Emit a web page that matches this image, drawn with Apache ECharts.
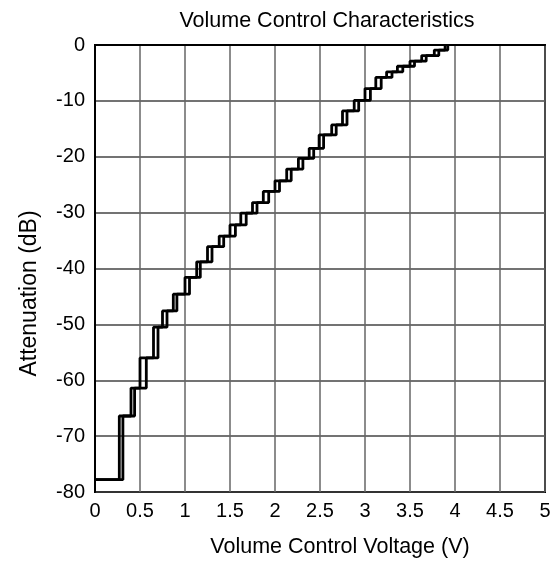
<!DOCTYPE html>
<html>
<head>
<meta charset="utf-8">
<script src="https://cdn.jsdelivr.net/npm/echarts@6/dist/echarts.min.js"></script>
<style>
    html, body { margin: 0; padding: 0; background: #fff; }
    #chart { width: 560px; height: 565px; }
</style>
</head>
<body>
<div id="chart"></div>
<script>
// attenuation steps (dB), first value is the level at 0 V
var levels = [-77.8, -66.4, -61.4, -56.0, -50.5, -47.6, -44.6, -41.6, -38.8, -36.1, -34.2,
    -32.2, -30.1, -28.2, -26.2, -24.3, -22.2, -20.3, -18.5, -16.1, -14.3,
    -11.8, -9.9, -7.8, -5.8, -4.8, -3.8, -2.9, -1.9, -0.9, 0];
// voltage where each step happens, rising and falling curve (hysteresis)
var riseUp = [0.27, 0.40, 0.50, 0.65, 0.75, 0.87, 1.00, 1.13, 1.25, 1.38,
    1.50, 1.62, 1.75, 1.87, 2.00, 2.13, 2.26, 2.38, 2.49, 2.63,
    2.75, 2.88, 3.00, 3.12, 3.24, 3.36, 3.50, 3.63, 3.77, 3.89];
var riseDown = [0.31, 0.44, 0.57, 0.70, 0.80, 0.91, 1.05, 1.17, 1.30, 1.43,
    1.56, 1.68, 1.80, 1.93, 2.05, 2.18, 2.31, 2.43, 2.54, 2.68,
    2.80, 2.93, 3.06, 3.18, 3.30, 3.42, 3.55, 3.68, 3.82, 3.92];
var xTicks = [0, 0.5, 1, 1.5, 2, 2.5, 3, 3.5, 4, 4.5, 5];
var yTicks = [-80, -70, -60, -50, -40, -30, -20, -10, 0];

function buildSteps(rises) {
    var pts = [[0, levels[0]]];
    for (var i = 0; i < rises.length; i++) {
        pts.push([rises[i], levels[i + 1]]);
    }
    return pts;
}

var myChart = echarts.init(document.getElementById('chart'));
var font = 'Liberation Sans, Arial, sans-serif';
var lineSeries = function (name, rises) {
    return {
        name: name,
        type: 'line',
        step: 'end',
        symbol: 'none',
        data: buildSteps(rises),
        lineStyle: { color: '#000', width: 2.8 },
        z: 5
    };
};

var option = {
    animation: false,
    backgroundColor: '#fff',
    title: {
        text: 'Volume Control Characteristics',
        left: 322,
        top: 5,
        textAlign: 'center',
        textStyle: { fontFamily: font, fontSize: 21.5, fontWeight: 'normal', color: '#000' }
    },
    grid: {
        left: 95,
        right: 15,
        top: 45,
        bottom: 73,
        show: true,
        borderColor: '#000',
        borderWidth: 2
    },
    xAxis: {
        type: 'value',
        min: 0,
        max: 5,
        interval: 0.5,
        name: 'Volume Control Voltage (V)',
        nameLocation: 'middle',
        nameGap: 44,
        nameTextStyle: { fontFamily: font, fontSize: 21.5, color: '#000', padding: [0, 0, 0, 40] },
        axisLine: { show: true, lineStyle: { color: '#000', width: 2 } },
        axisTick: { show: false },
        axisLabel: {
            fontFamily: font, fontSize: 20, color: '#000', margin: 9,
            showMinLabel: true, showMaxLabel: true,
            formatter: function (v) { return xTicks.indexOf(v) >= 0 ? String(v) : ''; }
        },
        splitLine: { show: true, lineStyle: { color: '#666', width: 1.5 } }
    },
    yAxis: {
        type: 'value',
        min: -80,
        max: 0,
        interval: 10,
        name: 'Attenuation (dB)',
        nameLocation: 'middle',
        nameGap: 54,
        nameTextStyle: { fontFamily: font, fontSize: 23, color: '#000', padding: [0, 50, 0, 0] },
        axisLine: { show: true, lineStyle: { color: '#000', width: 2 } },
        axisTick: { show: false },
        axisLabel: {
            fontFamily: font, fontSize: 20, color: '#000', margin: 10,
            formatter: function (v) { return yTicks.indexOf(v) >= 0 ? String(v) : ''; }
        },
        splitLine: { show: true, lineStyle: { color: '#444', width: 1.5 } }
    },
    series: [
        lineSeries('up', riseUp),
        lineSeries('down', riseDown)
    ]
};
myChart.setOption(option);
</script>
</body>
</html>
